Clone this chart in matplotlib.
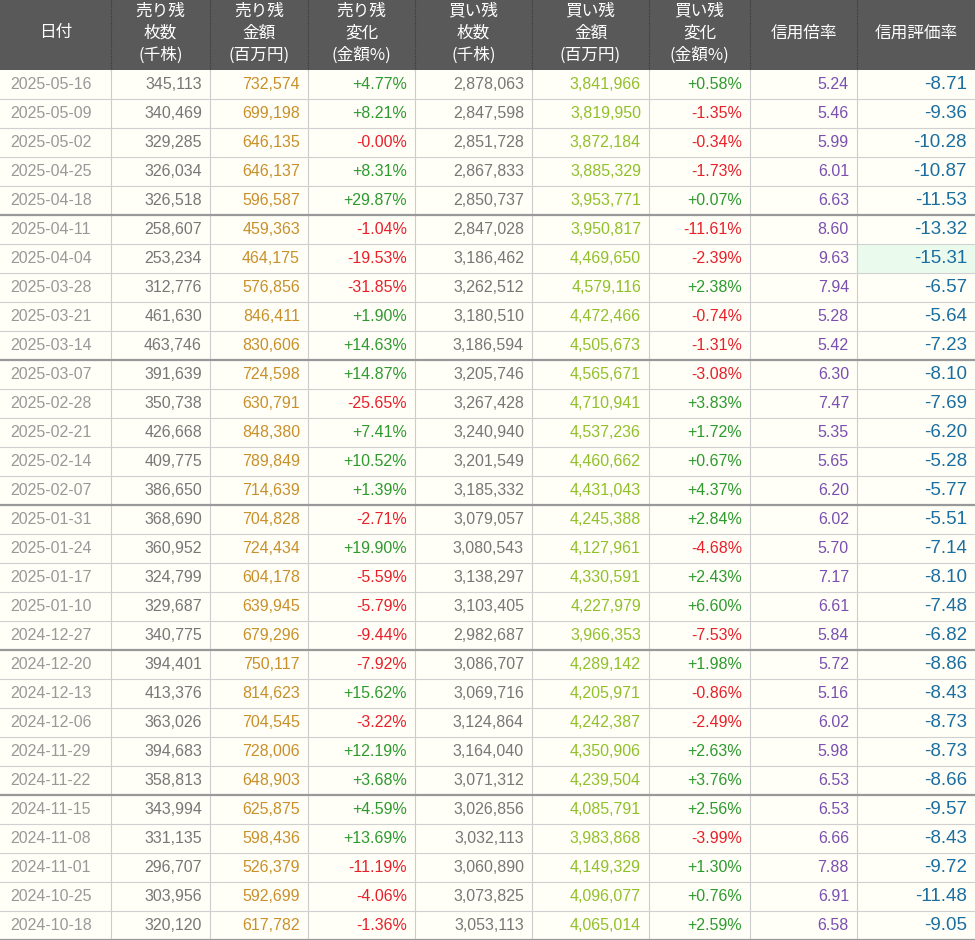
import matplotlib
matplotlib.use("Agg")
import matplotlib.pyplot as plt
from matplotlib.patches import Rectangle

plt.rcParams["font.family"] = ["Noto Sans CJK JP"]

headers = ["日付", "売り残\n枚数\n(千株)", "売り残\n金額\n(百万円)", "売り残\n変化\n(金額%)",
           "買い残\n枚数\n(千株)", "買い残\n金額\n(百万円)", "買い残\n変化\n(金額%)", "信用倍率", "信用評価率"]
dates = ["2025-05-16","2025-05-09","2025-05-02","2025-04-25","2025-04-18","2025-04-11","2025-04-04",
         "2025-03-28","2025-03-21","2025-03-14","2025-03-07","2025-02-28","2025-02-21","2025-02-14",
         "2025-02-07","2025-01-31","2025-01-24","2025-01-17","2025-01-10","2024-12-27","2024-12-20",
         "2024-12-13","2024-12-06","2024-11-29","2024-11-22","2024-11-15","2024-11-08","2024-11-01",
         "2024-10-25","2024-10-18"]
sell_qty = [345113,340469,329285,326034,326518,258607,253234,312776,461630,463746,391639,350738,426668,
            409775,386650,368690,360952,324799,329687,340775,394401,413376,363026,394683,358813,343994,
            331135,296707,303956,320120]
sell_amt = [732574,699198,646135,646137,596587,459363,464175,576856,846411,830606,724598,630791,848380,
            789849,714639,704828,724434,604178,639945,679296,750117,814623,704545,728006,648903,625875,
            598436,526379,592699,617782]
sell_chg = ["+4.77","+8.21","-0.00","+8.31","+29.87","-1.04","-19.53","-31.85","+1.90","+14.63","+14.87",
            "-25.65","+7.41","+10.52","+1.39","-2.71","+19.90","-5.59","-5.79","-9.44","-7.92","+15.62",
            "-3.22","+12.19","+3.68","+4.59","+13.69","-11.19","-4.06","-1.36"]
buy_qty = [2878063,2847598,2851728,2867833,2850737,2847028,3186462,3262512,3180510,3186594,3205746,
           3267428,3240940,3201549,3185332,3079057,3080543,3138297,3103405,2982687,3086707,3069716,
           3124864,3164040,3071312,3026856,3032113,3060890,3073825,3053113]
buy_amt = [3841966,3819950,3872184,3885329,3953771,3950817,4469650,4579116,4472466,4505673,4565671,
           4710941,4537236,4460662,4431043,4245388,4127961,4330591,4227979,3966353,4289142,4205971,
           4242387,4350906,4239504,4085791,3983868,4149329,4096077,4065014]
buy_chg = ["+0.58","-1.35","-0.34","-1.73","+0.07","-11.61","-2.39","+2.38","-0.74","-1.31","-3.08",
           "+3.83","+1.72","+0.67","+4.37","+2.84","-4.68","+2.43","+6.60","-7.53","+1.98","-0.86",
           "-2.49","+2.63","+3.76","+2.56","-3.99","+1.30","+0.76","+2.59"]
ratio = [5.24,5.46,5.99,6.01,6.63,8.60,9.63,7.94,5.28,5.42,6.30,7.47,5.35,5.65,6.20,6.02,5.70,7.17,
         6.61,5.84,5.72,5.16,6.02,5.98,6.53,6.53,6.66,7.88,6.91,6.58]
evalr = [-8.71,-9.36,-10.28,-10.87,-11.53,-13.32,-15.31,-6.57,-5.64,-7.23,-8.10,-7.69,-6.20,-5.28,
         -5.77,-5.51,-7.14,-8.10,-7.48,-6.82,-8.86,-8.43,-8.73,-8.73,-8.66,-9.57,-8.43,-9.72,-11.48,-9.05]

W, H = 975, 940
fig = plt.figure(figsize=(W/100, H/100), dpi=100)
ax = fig.add_axes([0, 0, 1, 1])
ax.set_xlim(0, W); ax.set_ylim(H, 0); ax.axis("off")

xs = [0, 111, 210, 308, 415, 532, 649, 750, 857, 975]
hh = 70
n = len(dates)
rh = (H - hh) / n

ax.add_patch(Rectangle((0, 0), W, hh, color="#595959", lw=0))
ax.add_patch(Rectangle((0, hh), W, H - hh, color="#fffff8", lw=0))
for i, h in enumerate(headers):
    ax.text((xs[i] + xs[i+1]) / 2, hh / 2 - 2, h, color="white", fontsize=12,
            ha="center", va="center", linespacing=1.4)
for x in xs[1:-1]:
    ax.plot([x, x], [0, hh], color="#3a3a3a", lw=0.8, ls=(0, (1, 1)))
    ax.plot([x, x], [hh, H], color="#cccccc", lw=0.8)

def chg_col(s):
    return "#e8202a" if s.startswith("-") else "#2e9a2e"

for r in range(n):
    y0 = hh + r * rh
    yc = y0 + rh / 2
    if evalr[r] == min(evalr):
        ax.add_patch(Rectangle((xs[8] + 1, y0 + 1), xs[9] - xs[8] - 1, rh - 1, color="#eafbee", lw=0))
    vals = [dates[r], f"{sell_qty[r]:,}", f"{sell_amt[r]:,}", sell_chg[r] + "%",
            f"{buy_qty[r]:,}", f"{buy_amt[r]:,}", buy_chg[r] + "%", f"{ratio[r]:.2f}", f"{evalr[r]:.2f}"]
    cols = ["#999999", "#777777", "#c8902a", chg_col(sell_chg[r]), "#777777", "#92c02a",
            chg_col(buy_chg[r]), "#7a4fb0", "#1a6ea0"]
    for c in range(9):
        fs = 13.5 if c == 8 else 11.5
        if c == 0:
            ax.text(xs[0] + 10, yc, vals[c], color=cols[c], fontsize=fs, ha="left", va="center",
                    fontfamily="Liberation Sans")
        else:
            ax.text(xs[c+1] - 8, yc, vals[c], color=cols[c], fontsize=fs, ha="right", va="center",
                    fontfamily="Liberation Sans")
    yb = y0 + rh
    thick = (r + 1) % 5 == 0
    ax.plot([0, W], [yb, yb], color="#999999" if thick else "#d0d0d0", lw=1.6 if thick else 0.8)

fig.savefig("out.png", dpi=100)
